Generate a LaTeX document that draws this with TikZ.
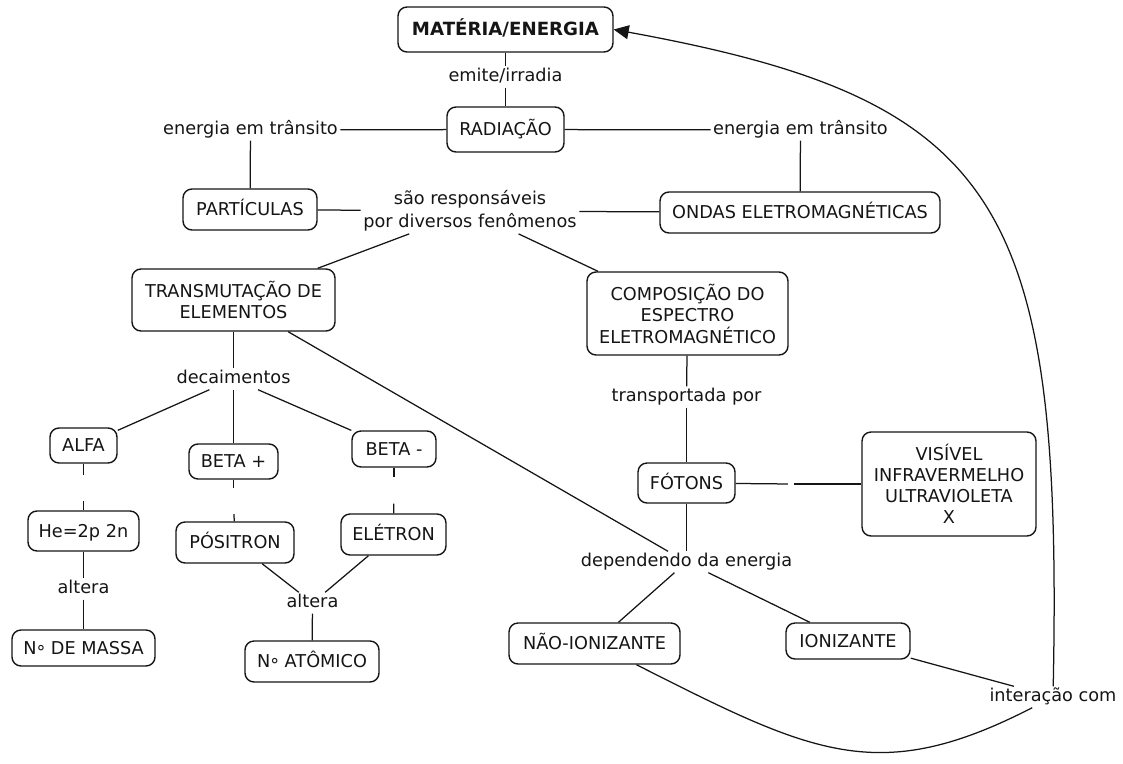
\documentclass[tikz,border=0pt]{standalone}
\usepackage{fontspec}
\setmainfont{DejaVu Sans}
\usetikzlibrary{arrows.meta}
\definecolor{ink}{HTML}{151515}
\begin{document}
\begin{tikzpicture}[x=1pt,y=-1pt,
  every node/.style={font=\fontsize{17.7}{21.5}\selectfont, text=ink},
  concept/.style={draw=ink, line width=1.4pt, rounded corners=9pt, inner sep=0pt, align=center},
  oneline/.style={text height=12.9pt, text depth=0pt},
  phrase/.style={inner sep=2.5pt, text height=12.5pt, text depth=3.5pt},
  phrasemulti/.style={inner sep=2.5pt, align=center},
  blank/.style={inner sep=0pt, minimum width=2pt, minimum height=26pt},
  link/.style={draw=ink, line width=1.25pt},
]
\useasboundingbox (0,0) rectangle (1123,763);

% concepts
\node[concept, oneline, minimum width=215, minimum height=45, font=\fontsize{18.2}{22}\selectfont\bfseries] (mat) at (505.5,29.5) {MATÉRIA/ENERGIA};
\node[concept, oneline, minimum width=117, minimum height=45] (rad) at (505.5,129.5) {RADIAÇÃO};
\node[concept, oneline, minimum width=134, minimum height=41] (part) at (250,209.5) {PARTÍCULAS};
\node[concept, oneline, minimum width=280, minimum height=41] (ondas) at (800,212.5) {ONDAS ELETROMAGNÉTICAS};
\node[concept, minimum width=203, minimum height=62] (trans) at (233.5,300) {TRANSMUTAÇÃO DE\\ELEMENTOS};
\node[concept, minimum width=201, minimum height=83] (comp) at (687.5,313.5) {COMPOSIÇÃO DO\\ESPECTRO\\ELETROMAGNÉTICO};
\node[concept, oneline, minimum width=67, minimum height=35] (alfa) at (83.5,445.5) {ALFA};
\node[concept, oneline, minimum width=89, minimum height=35] (betap) at (233.5,461.5) {BETA +};
\node[concept, oneline, minimum width=84, minimum height=36] (betam) at (394,449) {BETA -};
\node[concept, oneline, minimum width=111, minimum height=40] (he) at (83.5,531) {He=2p 2n};
\node[concept, oneline, minimum width=118, minimum height=41] (pos) at (235,542.5) {PÓSITRON};
\node[concept, oneline, minimum width=105, minimum height=41] (ele) at (393.5,534.5) {ELÉTRON};
\node[concept, oneline, minimum width=143, minimum height=36] (massa) at (83.5,648) {N\raisebox{-0.22em}{°} DE MASSA};
\node[concept, oneline, minimum width=134, minimum height=41] (atom) at (312,661.5) {N\raisebox{-0.22em}{°} ATÔMICO};
\node[concept, oneline, minimum width=97, minimum height=40] (fot) at (686.5,483) {FÓTONS};
\node[concept, minimum width=174, minimum height=104, font=\fontsize{17.7}{21}\selectfont] (vis) at (949,484) {VISÍVEL\\INFRAVERMELHO\\ULTRAVIOLETA\\X};
\node[concept, oneline, minimum width=171, minimum height=41] (nonion) at (594.5,643.5) {NÃO-IONIZANTE};
\node[concept, oneline, minimum width=124, minimum height=36] (ion) at (848,641) {IONIZANTE};

% linking phrases
\node[phrase] (emite) at (505.5,77) {emite/irradia};
\node[phrase] (enL) at (250.5,130) {energia em trânsito};
\node[phrase] (enR) at (800.5,130) {energia em trânsito};
\node[phrasemulti, font=\fontsize{17.7}{22.5}\selectfont] (resp) at (470,211) {são responsáveis\\por diversos fenômenos};
\node[phrase] (dec) at (233.5,379) {decaimentos};
\node[phrase] (alt1) at (83.5,589) {altera};
\node[phrase] (alt2) at (312.5,603) {altera};
\node[phrase] (transp) at (686.5,397) {transportada por};
\node[phrase] (dep) at (686.5,562) {dependendo da energia};
\node[phrase] (inter) at (1053,697) {interação com};

% empty linking phrases
\node[blank] (g1) at (83.5,488) {};
\node[blank] (g2) at (233.5,501) {};
\node[blank] (g3) at (394,490.5) {};
\node[inner sep=0pt, minimum width=6pt, minimum height=2pt] (g4) at (791,484) {};

% connectors
\draw[link] (mat) -- (emite);
\draw[link] (emite) -- (rad);
\draw[link] (rad) -- (enL);
\draw[link] (enL) -- (part);
\draw[link] (rad) -- (enR);
\draw[link] (enR) -- (ondas);
\draw[link] (part) -- (resp);
\draw[link] (ondas) -- (resp);
\draw[link] (resp) -- (trans);
\draw[link] (resp) -- (comp);
\draw[link] (trans) -- (dec);
\draw[link] (trans) -- (dep);
\draw[link] (dec) -- (alfa);
\draw[link] (dec) -- (betap);
\draw[link] (dec) -- (betam);
\draw[link] (alfa) -- (g1);
\draw[link] (g1) -- (he);
\draw[link] (he) -- (alt1);
\draw[link] (alt1) -- (massa);
\draw[link] (betap) -- (g2);
\draw[link] (g2) -- (pos);
\draw[link] (betam) -- (g3);
\draw[link] (g3) -- (ele);
\draw[link] (pos) -- (alt2);
\draw[link] (ele) -- (alt2);
\draw[link] (alt2) -- (atom);
\draw[link] (comp) -- (transp);
\draw[link] (transp) -- (fot);
\draw[link] (fot) -- (g4);
\draw[link] (g4) -- (vis);
\draw[link] (fot) -- (dep);
\draw[link] (dep) -- (nonion);
\draw[link] (dep) -- (ion);
\draw[link] (ion) -- (inter);
\draw[link] (nonion) .. controls (813,754) and (878,787) .. (inter);
\draw[link, -{Triangle[length=15pt,width=14pt]}] (inter) .. controls (1063,200) and (1000,100) .. (mat.east);
\end{tikzpicture}
\end{document}
